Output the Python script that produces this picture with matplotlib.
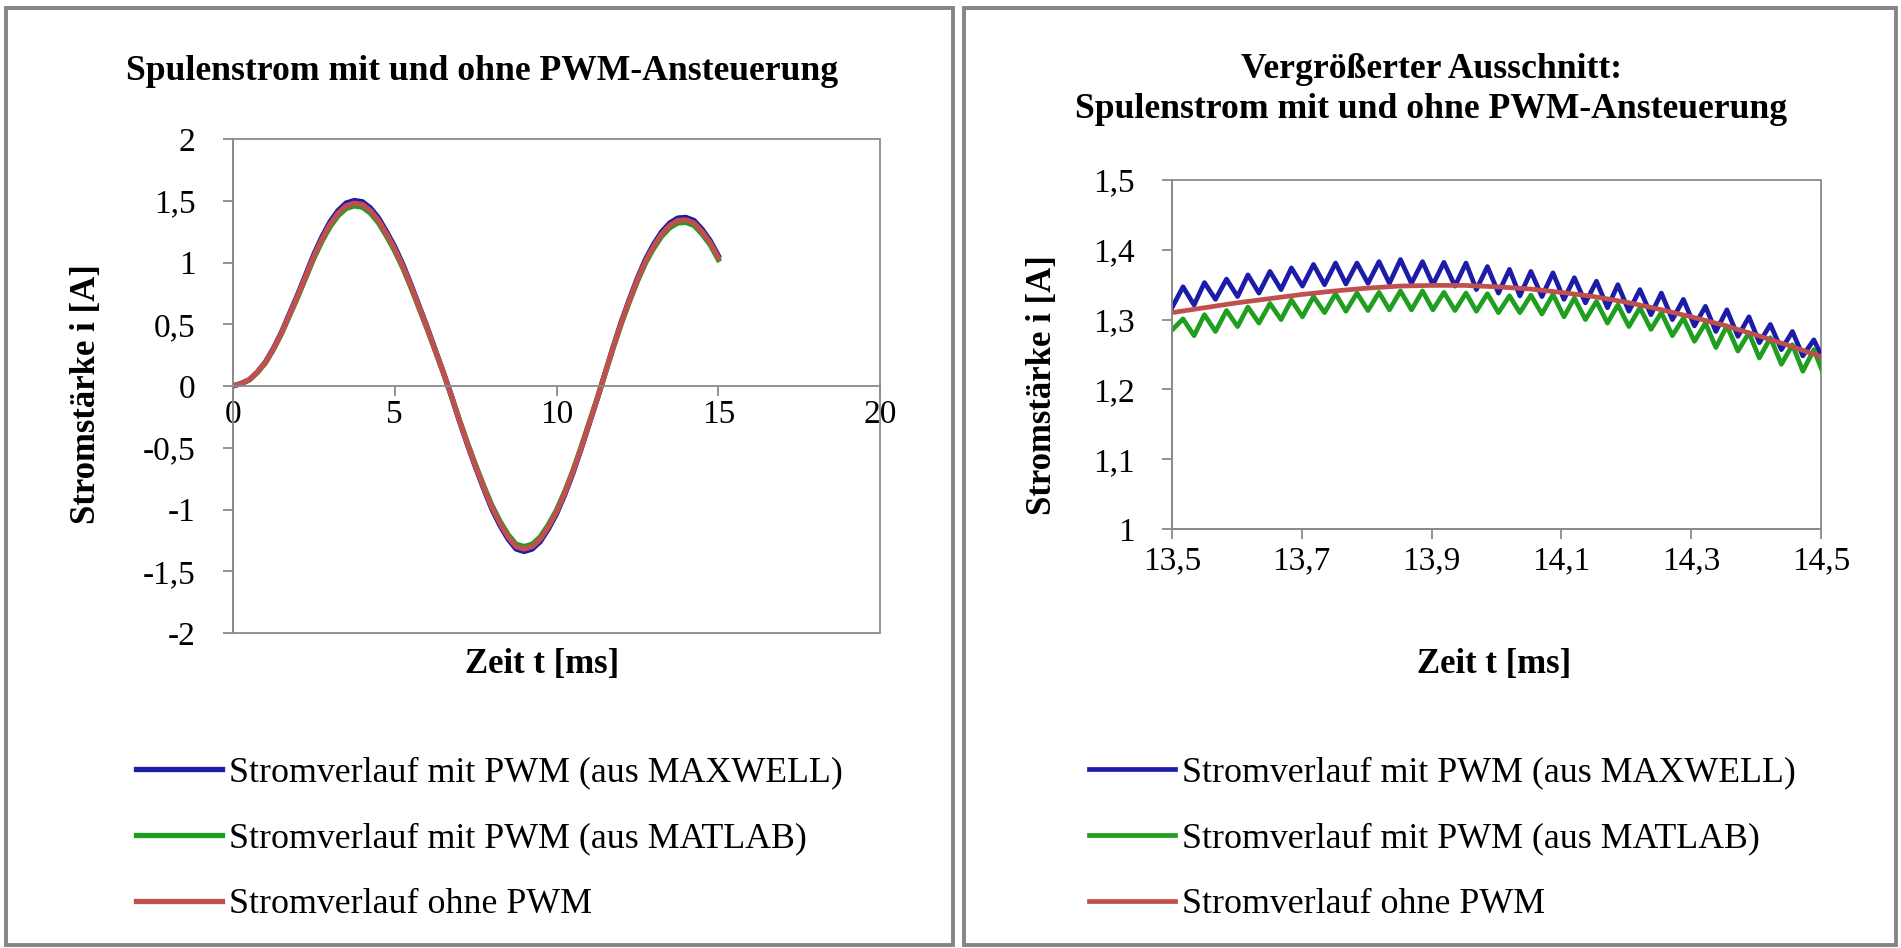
import matplotlib
matplotlib.use('Agg')
import matplotlib.pyplot as plt
from matplotlib.patches import Rectangle

plt.rcParams['font.family'] = ['Liberation Serif', 'DejaVu Serif']

# --- data: full time range (ms) and current (A)
t_full = [0.00, 0.25, 0.50, 0.75, 1.00, 1.25, 1.50, 1.75, 2.00, 2.25, 2.50, 2.75,
          3.00, 3.25, 3.50, 3.75, 4.00, 4.25, 4.50, 4.75, 5.00, 5.25, 5.50, 5.75,
          6.00, 6.25, 6.50, 6.75, 7.00, 7.25, 7.50, 7.75, 8.00, 8.25, 8.50, 8.75,
          9.00, 9.25, 9.50, 9.75, 10.00, 10.25, 10.50, 10.75, 11.00, 11.25, 11.50,
          11.75, 12.00, 12.25, 12.50, 12.75, 13.00, 13.25, 13.50, 13.75, 14.00,
          14.25, 14.50, 14.75, 15.00]
i_ohne_full = [0.00, 0.02, 0.05, 0.11, 0.19, 0.30, 0.43, 0.58, 0.73, 0.89, 1.05, 1.19,
               1.31, 1.40, 1.46, 1.48, 1.47, 1.42, 1.34, 1.23, 1.11, 0.97, 0.81, 0.64,
               0.47, 0.29, 0.11, -0.08, -0.28, -0.47, -0.65, -0.82, -0.98, -1.11, -1.22, -1.30,
               -1.32, -1.30, -1.24, -1.14, -1.02, -0.87, -0.70, -0.51, -0.31, -0.11, 0.10,
               0.31, 0.51, 0.69, 0.86, 1.01, 1.13, 1.23, 1.30, 1.34, 1.345,
               1.32, 1.25, 1.16, 1.04]
i_maxwell_full = [0.00, 0.02, 0.05, 0.112, 0.193, 0.305, 0.436, 0.589, 0.741, 0.903, 1.066, 1.208,
                  1.330, 1.421, 1.482, 1.502, 1.492, 1.441, 1.360, 1.248, 1.127, 0.985, 0.822, 0.650,
                  0.477, 0.294, 0.112, -0.081, -0.284, -0.477, -0.660, -0.832, -0.995, -1.127, -1.238, -1.320,
                  -1.340, -1.320, -1.259, -1.157, -1.035, -0.883, -0.711, -0.518, -0.315, -0.112, 0.102,
                  0.315, 0.518, 0.700, 0.873, 1.025, 1.147, 1.248, 1.320, 1.360, 1.365,
                  1.340, 1.269, 1.177, 1.056]
i_matlab_full = [0.00, 0.02, 0.049, 0.108, 0.187, 0.296, 0.424, 0.571, 0.719, 0.877, 1.034, 1.172,
                 1.290, 1.379, 1.438, 1.458, 1.448, 1.399, 1.320, 1.212, 1.093, 0.955, 0.798, 0.630,
                 0.463, 0.286, 0.108, -0.079, -0.276, -0.463, -0.640, -0.808, -0.965, -1.093, -1.202, -1.281,
                 -1.300, -1.281, -1.221, -1.123, -1.005, -0.857, -0.690, -0.502, -0.305, -0.108, 0.099,
                 0.305, 0.502, 0.680, 0.847, 0.995, 1.113, 1.212, 1.281, 1.320, 1.325,
                 1.300, 1.231, 1.143, 1.024]

# --- data: zoomed window 13.5 .. 14.5 ms (PWM ripple)
t_zoom = [13.500, 13.517, 13.534, 13.550, 13.567, 13.584, 13.601, 13.617, 13.634, 13.651,
          13.668, 13.684, 13.701, 13.718, 13.735, 13.752, 13.768, 13.785, 13.802, 13.819,
          13.835, 13.852, 13.869, 13.886, 13.902, 13.919, 13.936, 13.953, 13.969, 13.986,
          14.003, 14.020, 14.036, 14.053, 14.070, 14.087, 14.104, 14.120, 14.137, 14.154,
          14.171, 14.187, 14.204, 14.221, 14.238, 14.254, 14.271, 14.288, 14.305, 14.322,
          14.338, 14.355, 14.372, 14.389, 14.405, 14.422, 14.439, 14.456, 14.472, 14.489,
          14.506]
i_maxwell_zoom = [1.317, 1.347, 1.321, 1.353, 1.329, 1.358, 1.333, 1.364, 1.338, 1.369,
                  1.343, 1.374, 1.348, 1.379, 1.350, 1.381, 1.351, 1.381, 1.352, 1.383,
                  1.352, 1.386, 1.352, 1.383, 1.350, 1.382, 1.348, 1.381, 1.343, 1.376,
                  1.338, 1.372, 1.334, 1.369, 1.333, 1.367, 1.329, 1.360, 1.324, 1.355,
                  1.317, 1.350, 1.312, 1.343, 1.307, 1.338, 1.300, 1.329, 1.291, 1.319,
                  1.283, 1.314, 1.276, 1.304, 1.267, 1.293, 1.257, 1.283, 1.248, 1.271,
                  1.238]
i_matlab_zoom = [1.285, 1.301, 1.277, 1.307, 1.283, 1.313, 1.290, 1.318, 1.295, 1.323,
                 1.300, 1.328, 1.304, 1.333, 1.310, 1.337, 1.312, 1.338, 1.313, 1.339,
                 1.314, 1.341, 1.314, 1.341, 1.314, 1.339, 1.313, 1.338, 1.312, 1.337,
                 1.310, 1.334, 1.310, 1.335, 1.308, 1.336, 1.304, 1.331, 1.300, 1.326,
                 1.295, 1.321, 1.290, 1.317, 1.286, 1.310, 1.277, 1.302, 1.269, 1.295,
                 1.260, 1.291, 1.255, 1.281, 1.245, 1.274, 1.236, 1.264, 1.226, 1.257,
                 1.217]
t_zoom_ohne = [13.50, 13.55, 13.60, 13.65, 13.70, 13.75, 13.80, 13.85, 13.90, 13.95, 14.00,
               14.05, 14.10, 14.15, 14.20, 14.25, 14.30, 14.35, 14.40, 14.45, 14.50]
i_ohne_zoom = [1.310, 1.317, 1.324, 1.330, 1.336, 1.341, 1.345, 1.348, 1.349, 1.349, 1.347,
               1.344, 1.339, 1.333, 1.325, 1.315, 1.304, 1.292, 1.278, 1.263, 1.247]

labels = ['Stromverlauf mit PWM (aus MAXWELL)',
          'Stromverlauf mit PWM (aus MATLAB)',
          'Stromverlauf ohne PWM']

xticks_left = [0, 5, 10, 15, 20]
xticklabels_left = ['0', '5', '10', '15', '20']
yticks_left = [-2, -1.5, -1, -0.5, 0, 0.5, 1, 1.5, 2]
yticklabels_left = ['-2', '-1,5', '-1', '-0,5', '0', '0,5', '1', '1,5', '2']
xticks_right = [13.5, 13.7, 13.9, 14.1, 14.3, 14.5]
xticklabels_right = ['13,5', '13,7', '13,9', '14,1', '14,3', '14,5']
yticks_right = [1.0, 1.1, 1.2, 1.3, 1.4, 1.5]
yticklabels_right = ['1', '1,1', '1,2', '1,3', '1,4', '1,5']

c_blue = '#1c1ca8'
c_green = '#1f9e1f'
c_red = '#c0504d'
grey = '#8a8a8a'

W, H = 1901, 948
fig = plt.figure(figsize=(W / 100, H / 100), dpi=100)

def fx(px):
    return px / W

def fy(py):
    return 1 - py / H

# panel frames
for x0, x1 in [(6, 953), (964, 1896)]:
    fig.patches.append(Rectangle((fx(x0), fy(945)), fx(x1 - x0), (945 - 8) / H,
                                 transform=fig.transFigure, fill=False,
                                 ec='#858585', lw=2.8))

def style(ax, xpad):
    for s in ax.spines.values():
        s.set_visible(False)
    ax.spines['left'].set_visible(True)
    ax.spines['bottom'].set_visible(True)
    ax.spines['left'].set_color(grey)
    ax.spines['bottom'].set_color(grey)
    ax.spines['left'].set_linewidth(1.3)
    ax.spines['bottom'].set_linewidth(1.3)
    ax.add_patch(Rectangle((0, 0), 1, 1, transform=ax.transAxes, fill=False,
                           ec=grey, lw=1.3, clip_on=False, zorder=0.5))
    ax.tick_params(direction='out', length=7, width=1.3, color=grey,
                   labelsize=24, labelcolor='black')
    ax.tick_params(axis='y', pad=20)
    ax.tick_params(axis='x', pad=xpad)

# left plot
ax1 = fig.add_axes([fx(233), fy(633), fx(880 - 233), (633 - 139) / H])
ax1.plot(t_full, i_maxwell_full, color=c_blue, lw=3.8, label=labels[0])
ax1.plot(t_full, i_matlab_full, color=c_green, lw=3.8, label=labels[1])
ax1.plot(t_full, i_ohne_full, color=c_red, lw=3.8, label=labels[2])
ax1.set_xlim(0, 20)
ax1.set_ylim(-2, 2)
style(ax1, 3)
ax1.spines['bottom'].set_position(('data', 0))
ax1.set_xticks(xticks_left)
ax1.set_xticklabels(xticklabels_left)
ax1.set_yticks(yticks_left)
ax1.set_yticklabels(yticklabels_left)

# right plot
ax2 = fig.add_axes([fx(1172), fy(529), fx(1821 - 1172), (529 - 180) / H])
ax2.plot(t_zoom, i_maxwell_zoom, color=c_blue, lw=3.4, label=labels[0])
ax2.plot(t_zoom, i_matlab_zoom, color=c_green, lw=3.4, label=labels[1])
ax2.plot(t_zoom_ohne, i_ohne_zoom, color=c_red, lw=3.4, label=labels[2])
ax2.set_xlim(13.5, 14.5)
ax2.set_ylim(1.0, 1.5)
style(ax2, 5)
ax2.set_xticks(xticks_right)
ax2.set_xticklabels(xticklabels_right)
ax2.set_yticks(yticks_right)
ax2.set_yticklabels(yticklabels_right)

# titles and axis labels
bold = dict(fontweight='bold', fontsize=25.7, ha='center', va='center')
fig.text(fx(482), fy(72), 'Spulenstrom mit und ohne PWM-Ansteuerung', **bold)
fig.text(fx(1431), fy(70), 'Vergrößerter Ausschnitt:', **bold)
fig.text(fx(1431), fy(110), 'Spulenstrom mit und ohne PWM-Ansteuerung', **bold)
lab = dict(bold, fontsize=25)
fig.text(fx(542), fy(664), 'Zeit t [ms]', **lab)
fig.text(fx(1494), fy(664), 'Zeit t [ms]', **lab)
fig.text(fx(87), fy(394), 'Stromstärke i [A]', rotation=90, **lab)
fig.text(fx(1042), fy(385), 'Stromstärke i [A]', rotation=90, **lab)

# legends
for ax, x0 in [(ax1, 136), (ax2, 1089)]:
    ax.legend(loc='upper left', bbox_to_anchor=(fx(x0), fy(756)),
              bbox_transform=fig.transFigure, frameon=False, fontsize=25.8,
              handlelength=2.4, handletextpad=0.2, labelspacing=0.92,
              borderpad=0, borderaxespad=0)

fig.savefig('out.png', dpi=100)
